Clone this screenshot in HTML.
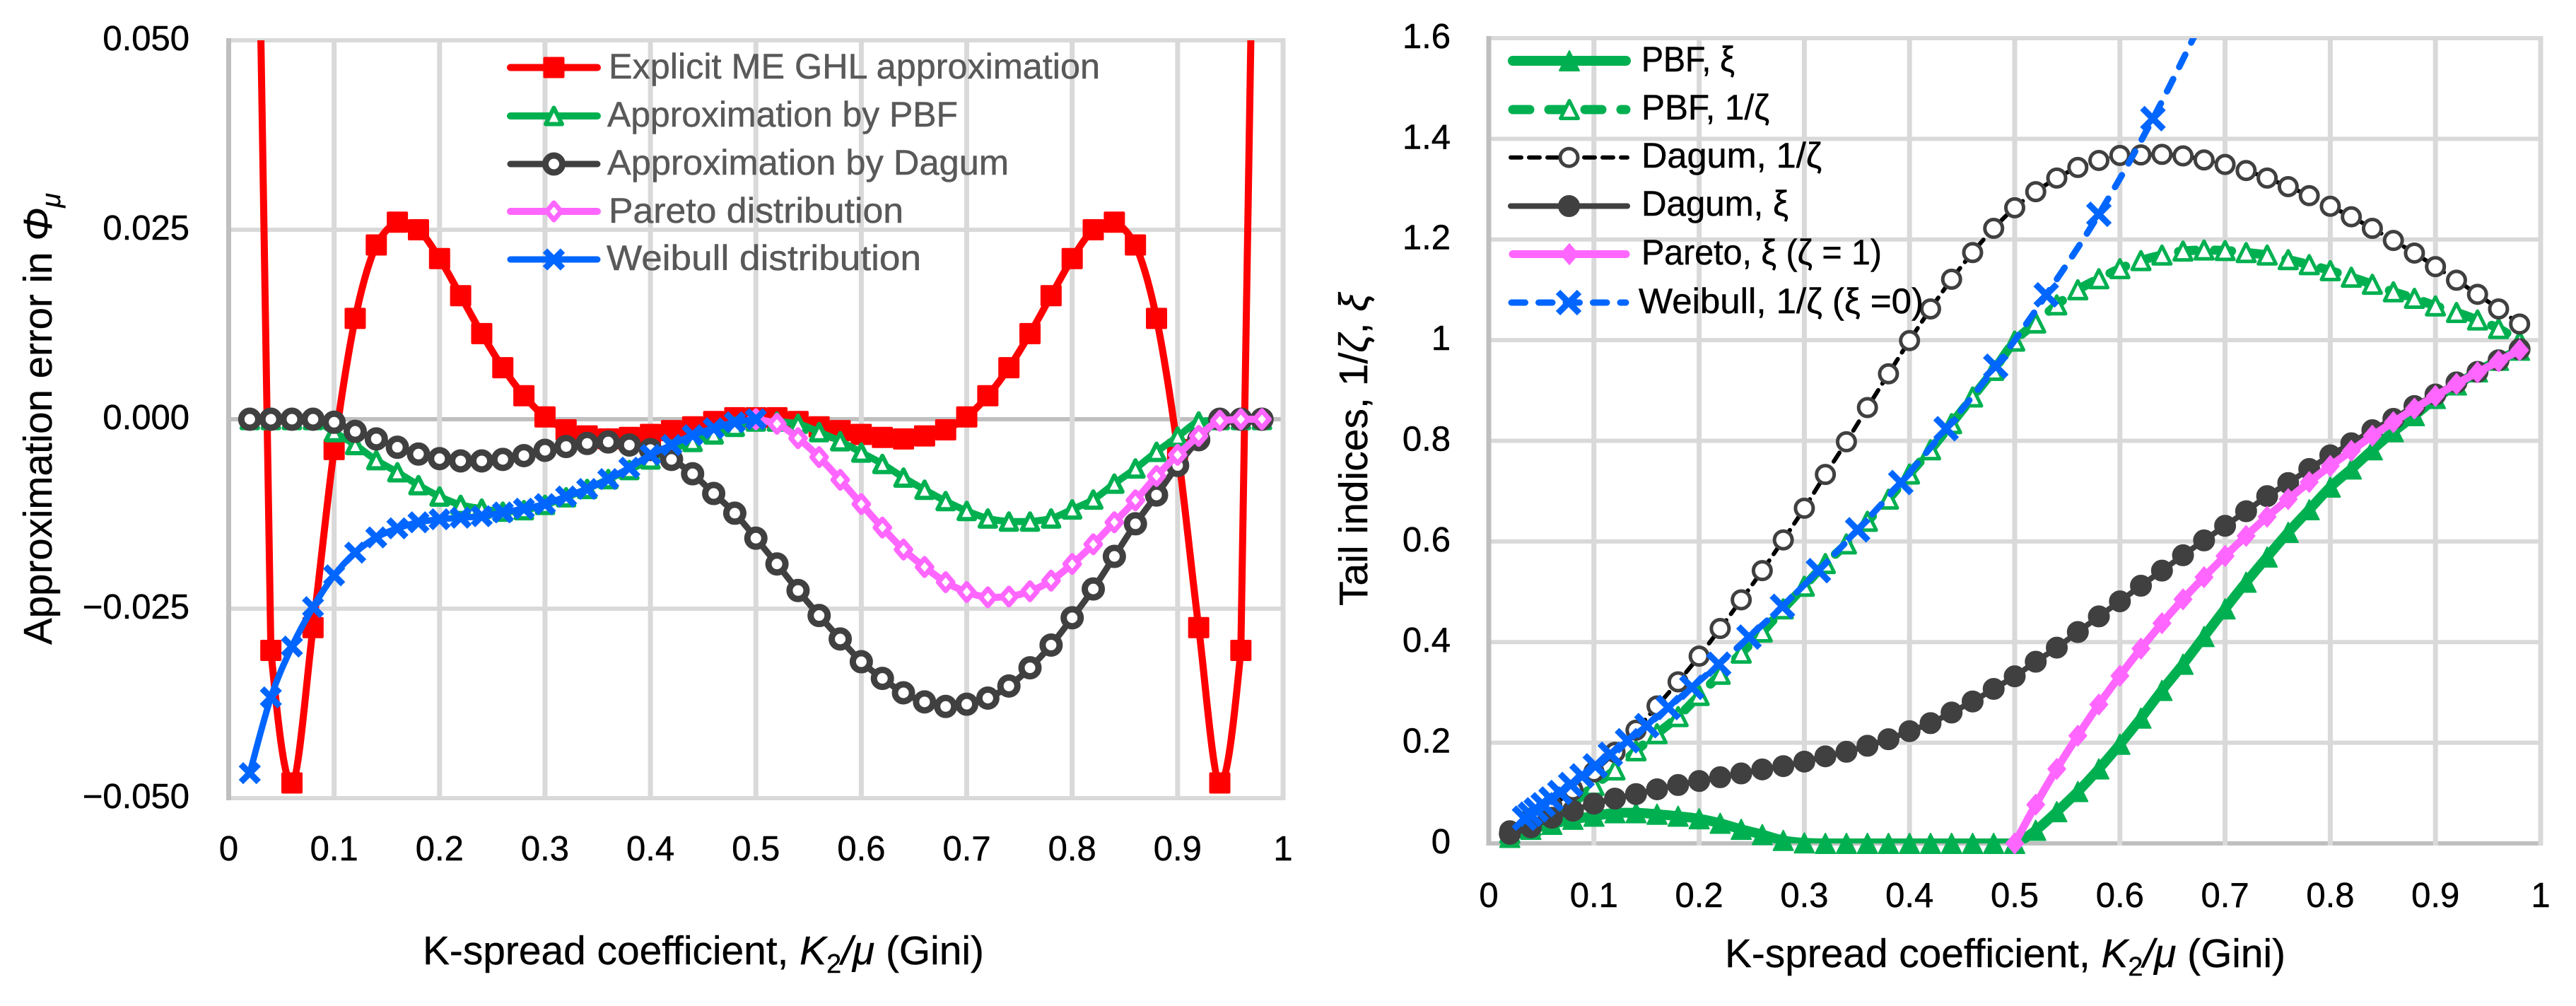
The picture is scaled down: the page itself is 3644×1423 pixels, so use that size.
<!DOCTYPE html>
<html lang="en">
<head>
<meta charset="utf-8">
<title>Approximation error and tail indices versus K-spread coefficient</title>
<style>
html,body{margin:0;padding:0;background:#fff;width:3644px;height:1423px;overflow:hidden}
svg{display:block}
text{font-family:"Liberation Sans",sans-serif}
.tick{font-size:49px;fill:#000;stroke:#000;stroke-width:.5px}
.legend{font-size:50px;fill:#595959;stroke:#595959;stroke-width:.5px}
.legend-r{font-size:50px;fill:#000;stroke:#000;stroke-width:.5px}
.title{font-size:57px;fill:#000;stroke:#000;stroke-width:.4px}
</style>
</head>
<body>
<svg id="fig" xmlns="http://www.w3.org/2000/svg" width="3644" height="1423" viewBox="0 0 3644 1423">
  <defs>
    <clipPath id="clip-left"><rect x="323" y="57" width="1493" height="1072"/></clipPath>
    <clipPath id="clip-right"><rect x="2106" y="54" width="1488" height="1139"/></clipPath>
  </defs>
  <g id="left-chart"></g>
  <g id="right-chart"></g>

  <text class="title" x="598" y="1364" textLength="794" lengthAdjust="spacingAndGlyphs">K-spread coefficient, <tspan font-style="italic">K</tspan><tspan font-size="38" dy="12">2</tspan><tspan dy="-12" font-style="italic">/μ</tspan> (Gini)</text>
  <text class="title" transform="translate(73,912) rotate(-90)" textLength="639" lengthAdjust="spacingAndGlyphs">Approximation error in <tspan font-style="italic">Φ</tspan><tspan font-style="italic" font-size="38" dy="12">μ</tspan></text>
  <text class="title" x="2440" y="1368" textLength="793" lengthAdjust="spacingAndGlyphs">K-spread coefficient, <tspan font-style="italic">K</tspan><tspan font-size="38" dy="12">2</tspan><tspan dy="-12" font-style="italic">/μ</tspan> (Gini)</text>
  <text class="title" transform="translate(1934,857) rotate(-90)" textLength="442" lengthAdjust="spacingAndGlyphs">Tail indices, 1/<tspan font-style="italic">ζ</tspan>, <tspan font-style="italic">ξ</tspan></text>

  <g id="left-legend">
    <text class="legend" x="861" y="111" textLength="695" lengthAdjust="spacingAndGlyphs">Explicit ME GHL approximation</text>
    <text class="legend" x="859" y="179" textLength="496" lengthAdjust="spacingAndGlyphs">Approximation by PBF</text>
    <text class="legend" x="859" y="247" textLength="568" lengthAdjust="spacingAndGlyphs">Approximation by Dagum</text>
    <text class="legend" x="861" y="315" textLength="417" lengthAdjust="spacingAndGlyphs">Pareto distribution</text>
    <text class="legend" x="858" y="382" textLength="445" lengthAdjust="spacingAndGlyphs">Weibull distribution</text>
  </g>
  <g id="right-legend">
    <text class="legend-r" x="2322" y="101" textLength="132" lengthAdjust="spacingAndGlyphs">PBF, ξ</text>
    <text class="legend-r" x="2322" y="169" textLength="181" lengthAdjust="spacingAndGlyphs">PBF, 1/ζ</text>
    <text class="legend-r" x="2322" y="237" textLength="255" lengthAdjust="spacingAndGlyphs">Dagum, 1/ζ</text>
    <text class="legend-r" x="2322" y="305" textLength="208" lengthAdjust="spacingAndGlyphs">Dagum, ξ</text>
    <text class="legend-r" x="2322" y="374" textLength="340" lengthAdjust="spacingAndGlyphs">Pareto, ξ (ζ = 1)</text>
    <text class="legend-r" x="2318" y="443" textLength="403" lengthAdjust="spacingAndGlyphs">Weibull, 1/ζ (ξ =0)</text>
  </g>
</svg>

<script>
// ---------- shared categories ----------
const gini = [0.02,0.04,0.06,0.08,0.10,0.12,0.14,0.16,0.18,0.20,0.22,0.24,0.26,0.28,0.30,0.32,0.34,0.36,0.38,0.40,0.42,0.44,0.46,0.48,0.50,0.52,0.54,0.56,0.58,0.60,0.62,0.64,0.66,0.68,0.70,0.72,0.74,0.76,0.78,0.80,0.82,0.84,0.86,0.88,0.90,0.92,0.94,0.96,0.98];
const giniUpper = [0.50,0.52,0.54,0.56,0.58,0.60,0.62,0.64,0.66,0.68,0.70,0.72,0.74,0.76,0.78,0.80,0.82,0.84,0.86,0.88,0.90,0.92,0.94,0.96,0.98];
const giniLower = [0.02,0.04,0.06,0.08,0.10,0.12,0.14,0.16,0.18,0.20,0.22,0.24,0.26,0.28,0.30,0.32,0.34,0.36,0.38,0.40,0.42,0.44,0.46,0.48,0.50];

// ---------- left chart values ----------
const errExplicit = [0.16,-0.0305,-0.048,-0.0275,-0.004,0.0133,0.023,0.026,0.025,0.0212,0.0163,0.0113,0.0068,0.0031,0.0003,-0.0014,-0.0022,-0.0026,-0.0024,-0.002,-0.0015,-0.001,-0.0003,0.0002,0.0002,0.0002,-0.0003,-0.001,-0.0015,-0.002,-0.0024,-0.0026,-0.0022,-0.0014,0.0003,0.0031,0.0068,0.0113,0.0163,0.0212,0.025,0.026,0.023,0.0133,-0.004,-0.0275,-0.048,-0.0305,0.16];
const errPBF = [-0.0001,-0.0001,-0.0001,-0.0001,-0.0017,-0.0034,-0.0054,-0.007,-0.0087,-0.0102,-0.0113,-0.0118,-0.0122,-0.012,-0.0113,-0.0103,-0.0092,-0.0079,-0.0067,-0.0053,-0.004,-0.003,-0.002,-0.001,-0.0003,-0.0003,-0.0006,-0.0017,-0.0029,-0.0044,-0.0059,-0.0077,-0.0093,-0.0108,-0.0121,-0.0131,-0.0135,-0.0135,-0.0131,-0.0119,-0.0106,-0.0085,-0.0065,-0.0043,-0.0023,-0.0003,-0.0001,-0.0001,-0.0001];
const errDagum = [0,0,0,0,-0.0004,-0.0016,-0.0026,-0.0037,-0.0046,-0.0052,-0.0055,-0.0055,-0.0053,-0.0048,-0.0041,-0.0036,-0.0032,-0.003,-0.0034,-0.004,-0.0053,-0.0072,-0.0098,-0.0124,-0.0157,-0.0191,-0.0226,-0.0259,-0.029,-0.032,-0.0342,-0.0361,-0.0373,-0.0379,-0.0376,-0.0368,-0.0352,-0.0328,-0.0298,-0.0262,-0.0224,-0.0181,-0.0138,-0.01,-0.0061,-0.0027,0,0,0];
const errPareto = [0,-0.0006,-0.0025,-0.005,-0.008,-0.0112,-0.0143,-0.0172,-0.0195,-0.0215,-0.0228,-0.0235,-0.0234,-0.0227,-0.0213,-0.0191,-0.0165,-0.0136,-0.0107,-0.0075,-0.0047,-0.0022,-0.0002,0,0];
const errWeibull = [-0.0467,-0.0367,-0.03,-0.0248,-0.0206,-0.0176,-0.0156,-0.0144,-0.0136,-0.0132,-0.013,-0.0128,-0.0123,-0.0118,-0.0112,-0.0102,-0.0092,-0.0079,-0.0064,-0.0047,-0.0034,-0.0021,-0.0012,-0.0004,0];
const leftYTicks = [0.05,0.025,0,-0.025,-0.05];
const leftYTickLabels = ['0.050','0.025','0.000','\u22120.025','\u22120.050'];
const xTicks = [0,0.1,0.2,0.3,0.4,0.5,0.6,0.7,0.8,0.9,1];
const xTickLabels = ['0','0.1','0.2','0.3','0.4','0.5','0.6','0.7','0.8','0.9','1'];

// ---------- right chart values ----------
const pbfXi = [0.012,0.028,0.038,0.048,0.054,0.061,0.061,0.058,0.054,0.049,0.04,0.028,0.0175,0.006,0.001,0,0,0,0,0,0,0,0,0,0,0.026,0.063,0.103,0.148,0.197,0.249,0.304,0.356,0.411,0.466,0.519,0.569,0.618,0.663,0.708,0.744,0.782,0.818,0.85,0.884,0.911,0.937,0.96,0.98];
const pbfInvZeta = [0.02,0.035,0.055,0.08,0.115,0.146,0.184,0.218,0.252,0.294,0.336,0.378,0.42,0.466,0.511,0.556,0.595,0.64,0.684,0.734,0.782,0.834,0.887,0.94,0.998,1.034,1.07,1.1,1.122,1.142,1.158,1.169,1.177,1.179,1.178,1.174,1.169,1.16,1.15,1.138,1.125,1.111,1.096,1.083,1.068,1.055,1.04,1.023,0.998];
const dagumInvZeta = [0.025,0.05,0.075,0.106,0.142,0.181,0.225,0.273,0.321,0.372,0.427,0.484,0.542,0.603,0.666,0.733,0.798,0.866,0.933,0.999,1.062,1.121,1.174,1.222,1.263,1.295,1.322,1.343,1.357,1.367,1.368,1.369,1.366,1.358,1.349,1.337,1.322,1.305,1.287,1.266,1.245,1.222,1.198,1.173,1.146,1.119,1.091,1.062,1.032];
const dagumXi = [0.019,0.032,0.051,0.065,0.079,0.089,0.098,0.1075,0.116,0.124,0.1315,0.139,0.147,0.1535,0.1625,0.173,0.182,0.194,0.207,0.223,0.239,0.26,0.282,0.307,0.332,0.361,0.389,0.42,0.451,0.481,0.512,0.542,0.5725,0.602,0.631,0.66,0.69,0.716,0.744,0.771,0.795,0.821,0.8436,0.869,0.892,0.916,0.937,0.96,0.982];
const paretoXi = [0,0.077,0.148,0.214,0.276,0.333,0.387,0.4375,0.485,0.529,0.571,0.611,0.649,0.684,0.718,0.75,0.78,0.81,0.837,0.864,0.889,0.913,0.936,0.958,0.98];
const weibullX = [0.034,0.0394,0.0451,0.0517,0.0592,0.0676,0.0779,0.0887,0.1013,0.1156,0.1319,0.1503,0.1707,0.1931,0.2186,0.2474,0.2792,0.3134,0.3507,0.3917,0.4348,0.482,0.53,0.58,0.6314,0.683];
const weibullInvZeta = [0.05,0.058,0.0666,0.0766,0.088,0.101,0.117,0.134,0.154,0.177,0.204,0.234,0.27,0.31,0.356,0.41,0.471,0.542,0.623,0.717,0.824,0.948,1.09,1.25,1.44,1.656];
const rightYTicks = [1.6,1.4,1.2,1,0.8,0.6,0.4,0.2,0];
const rightYTickLabels = ['1.6','1.4','1.2','1','0.8','0.6','0.4','0.2','0'];

// ---------- axis functions ----------
const leftX = v => 323.5 + 1491.5 * v;
const leftY = v => 593 - 10720 * v;
const rightX = v => 2106 + 1488 * v;
const rightY = v => 1193 - 711.9 * v;

const NS = 'http://www.w3.org/2000/svg';
function node(parent, tag, attrs, name) {
  const el = document.createElementNS(NS, tag);
  for (const k in attrs) el.setAttribute(k, attrs[k]);
  
  
  parent.appendChild(el);
  return el;
}

// keep a spline handle from travelling further than a fraction of its segment,
// so sharp dips stay pointed as in the source chart
function limitHandle(anchorY, handleY, otherY) {
  const span = Math.abs(otherY - anchorY) * 0.55;
  return Math.max(anchorY - span, Math.min(anchorY + span, handleY));
}

function smoothPath(pts) {
  let d = 'M' + pts[0][0].toFixed(1) + ' ' + pts[0][1].toFixed(1);
  for (let i = 0; i < pts.length - 1; i++) {
    const p0 = pts[Math.max(0, i - 1)], p1 = pts[i], p2 = pts[i + 1], p3 = pts[Math.min(pts.length - 1, i + 2)];
    const c1x = p1[0] + (p2[0] - p0[0]) / 6;
    const c1y = limitHandle(p1[1], p1[1] + (p2[1] - p0[1]) / 6, p2[1]);
    const c2x = p2[0] - (p3[0] - p1[0]) / 6;
    const c2y = limitHandle(p2[1], p2[1] - (p3[1] - p1[1]) / 6, p1[1]);
    d += 'C' + c1x.toFixed(1) + ' ' + c1y.toFixed(1) + ' ' + c2x.toFixed(1) + ' ' + c2y.toFixed(1) + ' ' + p2[0].toFixed(1) + ' ' + p2[1].toFixed(1);
  }
  return d;
}

function marker(parent, type, x, y, s, st, name) {
  const r = s / 2;
  if (type === 'square') {
    return node(parent, 'rect', {x: x - r, y: y - r, width: s, height: s, rx: 2, fill: st.color}, name);
  }
  if (type === 'circle-open' || type === 'circle-fill') {
    return node(parent, 'circle', {cx: x, cy: y, r: r - st.mw / 2, fill: type === 'circle-fill' ? st.color : '#fff', stroke: st.color, 'stroke-width': st.mw}, name);
  }
  if (type === 'triangle-open' || type === 'triangle-fill') {
    const pts = [x, y - r, x + r, y + r, x - r, y + r].join(' ');
    return node(parent, 'polygon', {points: pts, fill: type === 'triangle-fill' ? st.color : '#fff', stroke: st.color, 'stroke-width': st.mw, 'stroke-linejoin': 'round'}, name);
  }
  if (type === 'diamond-open' || type === 'diamond-fill') {
    const w = r * 0.86;
    const pts = [x, y - r, x + w, y, x, y + r, x - w, y].join(' ');
    return node(parent, 'polygon', {points: pts, fill: type === 'diamond-fill' ? st.color : '#fff', stroke: st.color, 'stroke-width': st.mw, 'stroke-linejoin': 'round'}, name);
  }
  if (type === 'cross') {
    const d = 'M' + (x - r) + ' ' + (y - r) + 'L' + (x + r) + ' ' + (y + r) + 'M' + (x + r) + ' ' + (y - r) + 'L' + (x - r) + ' ' + (y + r);
    return node(parent, 'path', {d: d, fill: 'none', stroke: st.color, 'stroke-width': st.mw}, name);
  }
}

function grid(parent, xt, yt, sx, sy, x0, x1, y0, y1, axisXv, axisYv) {
  yt.forEach(v => {
    const y = sy(v);
    node(parent, 'line', {x1: x0, x2: x1, y1: y, y2: y, stroke: v === axisYv ? '#bfbfbf' : '#d9d9d9', 'stroke-width': 6}, 'horizontal-gridline');
  });
  xt.forEach(v => {
    const x = sx(v);
    node(parent, 'line', {x1: x, x2: x, y1: y0, y2: y1, stroke: v === axisXv ? '#bfbfbf' : '#d9d9d9', 'stroke-width': 7}, 'vertical-gridline');
  });
}

function tickLabels(parent, xt, xl, yt, yl, sx, sy, xBase, yRight) {
  xt.forEach((v, i) => {
    const t = node(parent, 'text', {class: 'tick', x: sx(v), y: xBase, 'text-anchor': 'middle'}, 'x-tick-label');
    t.textContent = xl[i];
  });
  yt.forEach((v, i) => {
    const t = node(parent, 'text', {class: 'tick', x: yRight, y: sy(v) + 14, 'text-anchor': 'end'}, 'y-tick-label');
    t.textContent = yl[i];
  });
}

function series(parent, xs, ys, sx, sy, clip, st, yMin, yMax) {
  const g = node(parent, 'g', {}, st.name);
  const pts = xs.map((x, i) => [sx(x), sy(ys[i])]);
  const attrs = {d: smoothPath(pts), fill: 'none', stroke: st.lineColor || st.color, 'stroke-width': st.lw, 'stroke-linecap': 'round', 'stroke-linejoin': 'round', 'clip-path': 'url(#' + clip + ')'};
  if (st.dash) attrs['stroke-dasharray'] = st.dash;
  node(g, 'path', attrs, st.name + '-line');
  xs.forEach((x, i) => {
    if (ys[i] > yMax || ys[i] < yMin) return;
    marker(g, st.type, sx(x), sy(ys[i]), st.size, st, st.name + '-point');
  });
}

function legendEntry(parent, st, x0, x1, y) {
  const g = node(parent, 'g', {}, 'legend-key-' + st.name);
  const attrs = {x1: x0, x2: x1, y1: y, y2: y, stroke: st.lineColor || st.color, 'stroke-width': st.lw, 'stroke-linecap': 'round'};
  if (st.dash) attrs['stroke-dasharray'] = st.dash;
  node(g, 'line', attrs, 'legend-line');
  marker(g, st.type, (x0 + x1) / 2, y, st.size, st, 'legend-marker');
}

// ---------- styles ----------
const RED = '#ff0000', GREEN = '#00b050', DARK = '#404040', PINK = '#ff66ff', BLUE = '#0066ff';
const sExplicit = {name: 'explicit-me-ghl-series', color: RED, lw: 10, type: 'square', size: 30, mw: 0};
const sPBF = {name: 'pbf-series', color: GREEN, lw: 10, type: 'triangle-open', size: 23, mw: 6};
const sDagum = {name: 'dagum-series', color: DARK, lw: 9, type: 'circle-open', size: 33, mw: 9};
const sPareto = {name: 'pareto-series', color: PINK, lw: 10, type: 'diamond-open', size: 24, mw: 7};
const sWeibull = {name: 'weibull-series', color: BLUE, lw: 9, type: 'cross', size: 25, mw: 9};

const sPbfXi = {name: 'pbf-xi-series', color: GREEN, lw: 14, type: 'triangle-fill', size: 28, mw: 2};
const sPbfInv = {name: 'pbf-inverse-zeta-series', color: GREEN, lw: 13, dash: '24 27', type: 'triangle-open', size: 25, mw: 5};
const sDagumInv = {name: 'dagum-inverse-zeta-series', color: DARK, lineColor: '#000', lw: 6, dash: '15 11', type: 'circle-open', size: 30, mw: 5};
const sDagumXi = {name: 'dagum-xi-series', color: DARK, lw: 8, type: 'circle-fill', size: 31, mw: 1};
const sParetoXi = {name: 'pareto-xi-series', color: PINK, lw: 11, type: 'diamond-fill', size: 30, mw: 1};
const sWeibullInv = {name: 'weibull-inverse-zeta-series', color: BLUE, lw: 9, dash: '19.5 19', type: 'cross', size: 30, mw: 9};

// ---------- draw left chart ----------
const L = document.getElementById('left-chart');
grid(L, xTicks, leftYTicks, leftX, leftY, 320.5, 1818, 54, 1132, 0, 0);
tickLabels(L, xTicks, xTickLabels, leftYTicks, leftYTickLabels, leftX, leftY, 1217, 268);
series(L, gini, errExplicit, leftX, leftY, 'clip-left', sExplicit, -0.05, 0.05);
series(L, gini, errPBF, leftX, leftY, 'clip-left', sPBF, -0.05, 0.05);
series(L, gini, errDagum, leftX, leftY, 'clip-left', sDagum, -0.05, 0.05);
series(L, giniUpper, errPareto, leftX, leftY, 'clip-left', sPareto, -0.05, 0.05);
series(L, giniLower, errWeibull, leftX, leftY, 'clip-left', sWeibull, -0.05, 0.05);

// ---------- draw right chart ----------
const R = document.getElementById('right-chart');
grid(R, xTicks, rightYTicks, rightX, rightY, 2103, 3597, 51, 1196, 0, 0);
tickLabels(R, xTicks, xTickLabels, rightYTicks, rightYTickLabels, rightX, rightY, 1283, 2052);
series(R, gini, pbfXi, rightX, rightY, 'clip-right', sPbfXi, 0, 1.6);
series(R, gini, pbfInvZeta, rightX, rightY, 'clip-right', sPbfInv, 0, 1.6);
series(R, gini, dagumInvZeta, rightX, rightY, 'clip-right', sDagumInv, 0, 1.6);
series(R, gini, dagumXi, rightX, rightY, 'clip-right', sDagumXi, 0, 1.6);
series(R, giniUpper, paretoXi, rightX, rightY, 'clip-right', sParetoXi, 0, 1.6);
series(R, weibullX, weibullInvZeta, rightX, rightY, 'clip-right', sWeibullInv, 0, 1.6);

// ---------- legend keys ----------
const LL = document.getElementById('left-legend');
legendEntry(LL, sExplicit, 722, 845, 95.5);
legendEntry(LL, sPBF, 722, 845, 164);
legendEntry(LL, sDagum, 722, 845, 232);
legendEntry(LL, sPareto, 722, 845, 299);
legendEntry(LL, sWeibull, 722, 845, 367);
const RL = document.getElementById('right-legend');
legendEntry(RL, sPbfXi, 2140, 2300, 86);
legendEntry(RL, sPbfInv, 2140, 2300, 155);
legendEntry(RL, sDagumInv, 2137, 2302, 222.7);
legendEntry(RL, sDagumXi, 2137, 2302, 291.5);
legendEntry(RL, sParetoXi, 2140, 2300, 359.5);
legendEntry(RL, sWeibullInv, 2138, 2300, 428);
</script>
</body>
</html>
